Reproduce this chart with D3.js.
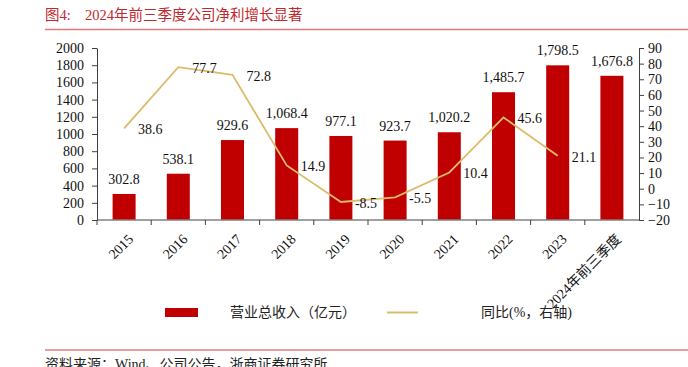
<!DOCTYPE html>
<html>
<head>
<meta charset="utf-8">
<script src="https://cdn.jsdelivr.net/npm/d3@7"></script>
<style>
  body { margin: 0; background: #fff; }
  svg text { font-family: "Liberation Serif", "Noto Sans CJK SC", serif; }
</style>
</head>
<body>
<script>
var years = ["2015", "2016", "2017", "2018", "2019", "2020", "2021", "2022", "2023", "2024年前三季度"];
var revenue = [302.8, 538.1, 929.6, 1068.4, 977.1, 923.7, 1020.2, 1485.7, 1798.5, 1676.8];
var yoy = [38.6, 77.7, 72.8, 14.9, -8.5, -5.5, 10.4, 45.6, 21.1, null];
var leftTicks = [0, 200, 400, 600, 800, 1000, 1200, 1400, 1600, 1800, 2000];
var rightTicks = [-20, -10, 0, 10, 20, 30, 40, 50, 60, 70, 80, 90];

var width = 688, height = 367;
var plotLeft = 97, plotRight = 639, plotTop = 48, plotBottom = 220;

var svg = d3.select("body").append("svg")
    .attr("width", width)
    .attr("height", height);

// title
var title = svg.append("text")
    .attr("x", 45)
    .attr("y", 20)
    .style("font-size", "14.5px")
    .attr("fill", "#c0282d");
title.append("tspan").text("图4:");
title.append("tspan").attr("x", 85).text("2024年前三季度公司净利增长显著");

svg.append("line")
    .attr("x1", 45).attr("x2", width)
    .attr("y1", 29.5).attr("y2", 29.5)
    .attr("stroke", "#e07a7a")
    .attr("stroke-width", 1.5);

var x = d3.scaleBand()
    .domain(years)
    .range([plotLeft, plotRight])
    .paddingInner(0.58)
    .paddingOuter(0.29);

var xc = function (d) { return x(d) + x.bandwidth() / 2; };
var step = (plotRight - plotLeft) / years.length;

var yL = d3.scaleLinear().domain([0, 2000]).range([plotBottom, plotTop]);
var yR = d3.scaleLinear().domain([-20, 90]).range([plotBottom, plotTop]);

// bars
svg.append("g").selectAll("rect")
    .data(revenue)
    .join("rect")
    .attr("x", function (d, i) { return xc(years[i]) - 11.5; })
    .attr("width", 23)
    .attr("y", function (d) { return yL(d); })
    .attr("height", function (d) { return plotBottom - yL(d); })
    .attr("fill", "#c00000");

// bar labels
svg.append("g").selectAll("text")
    .data(revenue)
    .join("text")
    .attr("x", function (d, i) { return xc(years[i]); })
    .attr("y", function (d) { return yL(d) - 10; })
    .attr("text-anchor", "middle")
    .style("font-size", "14px")
    .attr("fill", "#111")
    .text(function (d) { return d3.format(",.1f")(d); });

// x axis
var axisX = svg.append("g");
axisX.append("line")
    .attr("x1", plotLeft).attr("x2", plotRight)
    .attr("y1", plotBottom).attr("y2", plotBottom)
    .attr("stroke", "#808080").attr("stroke-width", 1.5);
axisX.selectAll(".tk")
    .data(d3.range(years.length))
    .join("line")
    .attr("x1", function (i) { return plotLeft + i * step; })
    .attr("x2", function (i) { return plotLeft + i * step; })
    .attr("y1", plotBottom).attr("y2", plotBottom + 5)
    .attr("stroke", "#404040");
axisX.selectAll("text")
    .data(years)
    .join("text")
    .attr("transform", function (d) { return "translate(" + (xc(d) + 3) + "," + 233 + ") rotate(-45)"; })
    .attr("text-anchor", "end")
    .attr("dy", "0.71em")
    .style("font-size", "14px")
    .attr("fill", "#111")
    .text(function (d) { return d; });

// y axes
var axisL = svg.append("g")
    .attr("transform", "translate(" + plotLeft + ",0)")
    .call(d3.axisLeft(yL).tickValues(leftTicks).tickFormat(d3.format("d"))
        .tickSize(5).tickPadding(8).tickSizeOuter(0));
var axisR = svg.append("g")
    .attr("transform", "translate(" + plotRight + ",0)")
    .call(d3.axisRight(yR).tickValues(rightTicks).tickFormat(d3.format("d"))
        .tickSize(5).tickPadding(4).tickSizeOuter(0));
[axisL, axisR].forEach(function (a) {
    a.select(".domain").attr("stroke", "#404040");
    a.selectAll(".tick line").attr("stroke", "#404040");
    a.selectAll("text")
        .style("font-family", "Liberation Serif")
        .style("font-size", "14px")
        .attr("fill", "#111");
});

// yoy line
var pts = yoy.map(function (v, i) { return { v: v, k: years[i] }; })
    .filter(function (d) { return d.v !== null; });

var line = d3.line()
    .x(function (d) { return xc(d.k); })
    .y(function (d) { return yR(d.v); });

svg.append("path")
    .datum(pts)
    .attr("d", line)
    .attr("fill", "none")
    .attr("stroke", "#dcbc6a")
    .attr("stroke-width", 1.8);

svg.append("g").selectAll("text")
    .data(pts)
    .join("text")
    .attr("x", function (d) { return xc(d.k) + 14; })
    .attr("y", function (d) { return yR(d.v) + 1; })
    .attr("dy", "0.35em")
    .style("font-size", "14px")
    .attr("fill", "#111")
    .text(function (d) { return d.v.toFixed(1); });

// legend
var lg = svg.append("g");
lg.append("rect")
    .attr("x", 165).attr("y", 308)
    .attr("width", 33).attr("height", 9)
    .attr("fill", "#c00000");
lg.append("text")
    .attr("x", 230).attr("y", 312)
    .attr("dy", "0.35em")
    .style("font-size", "14px")
    .attr("fill", "#222")
    .text("营业总收入（亿元）");
lg.append("line")
    .attr("x1", 387).attr("x2", 418)
    .attr("y1", 312.5).attr("y2", 312.5)
    .attr("stroke", "#dcbc6a").attr("stroke-width", 2);
lg.append("text")
    .attr("x", 481).attr("y", 312)
    .attr("dy", "0.35em")
    .style("font-size", "14px")
    .attr("fill", "#222")
    .text("同比(%，右轴)");

// footer
svg.append("line")
    .attr("x1", 45).attr("x2", width)
    .attr("y1", 350).attr("y2", 350)
    .attr("stroke", "#e07a7a")
    .attr("stroke-width", 1.5);
svg.append("text")
    .attr("x", 45).attr("y", 369)
    .style("font-size", "14px")
    .attr("fill", "#222")
    .text("资料来源：Wind、公司公告，浙商证券研究所");
</script>
</body>
</html>
